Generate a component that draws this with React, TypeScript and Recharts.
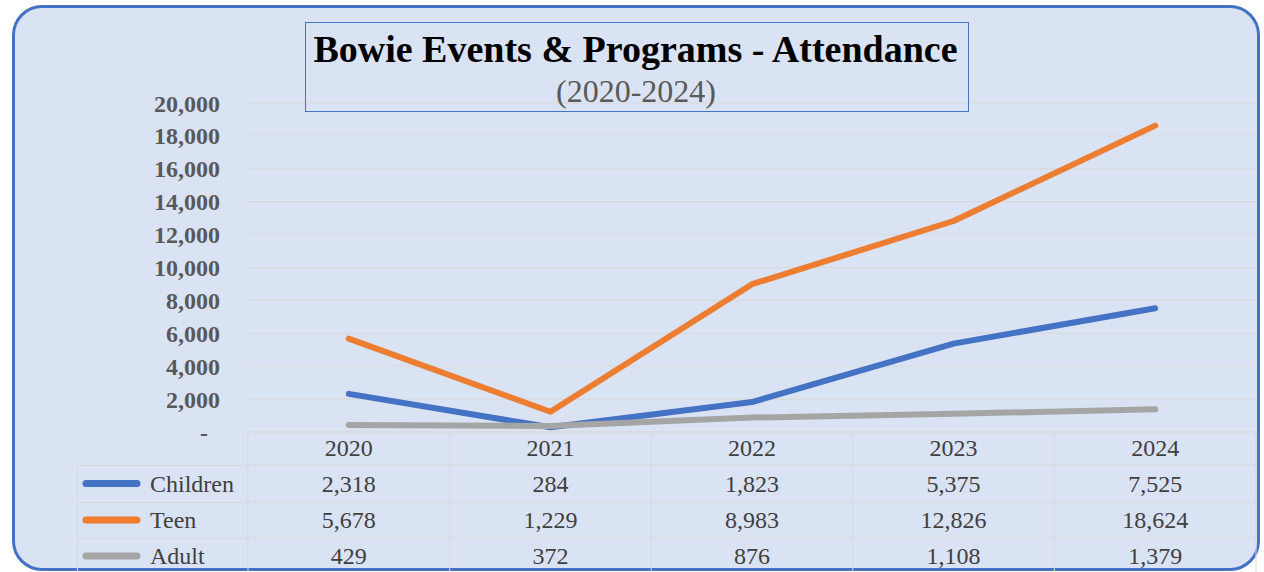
import React from 'react';
import { LineChart, Line, XAxis, YAxis, CartesianGrid, Legend } from 'recharts';

const years = ['2020', '2021', '2022', '2023', '2024'];
const children = [2318, 284, 1823, 5375, 7525];
const teen = [5678, 1229, 8983, 12826, 18624];
const adult = [429, 372, 876, 1108, 1379];
const yTicks = [0, 2000, 4000, 6000, 8000, 10000, 12000, 14000, 16000, 18000, 20000];

const seriesDefs = [
  { key: 'children', name: 'Children', color: '#4472C4', values: children },
  { key: 'teen', name: 'Teen', color: '#ED7D31', values: teen },
  { key: 'adult', name: 'Adult', color: '#A5A5A5', values: adult },
];

const data = years.map((y, i) => ({
  year: y,
  children: children[i],
  teen: teen[i],
  adult: adult[i],
}));

const W = 1264;
const H = 572;
const Y_AXIS_W = 248;
const RIGHT = 8;
const TOP = 103;
const X_AXIS_H = 140;
const HALF_BAND = (W - Y_AXIS_W - RIGHT) / years.length / 2;

const FONT = "'Liberation Serif', 'Times New Roman', serif";
const GRID = '#D9D9D9';
const TEXT = '#404040';

// row offsets below the axis line (relative to x-axis y)
const HEADER_CY = 16;
const ROW_LINES = [33, 70, 106];
const ROW_CY = [51.5, 88, 124];

const fmt = (v: number) => v.toLocaleString('en-US');

const TableTick = (props: any) => {
  const { x, y, payload } = props;
  const i = payload?.index ?? props.index ?? 0;
  const left = x - HALF_BAND;
  const right = x + HALF_BAND;
  const last = i === years.length - 1;
  return (
    <g>
      <line x1={left} x2={left} y1={y} y2={y + X_AXIS_H} stroke={GRID} strokeWidth={1} />
      {last && <line x1={right} x2={right} y1={y} y2={y + X_AXIS_H} stroke={GRID} strokeWidth={1} />}
      {ROW_LINES.map((d, k) => (
        <line key={k} x1={left} x2={right} y1={y + d} y2={y + d} stroke={GRID} strokeWidth={1} />
      ))}
      <text x={x} y={y + HEADER_CY} textAnchor="middle" dominantBaseline="central" fontFamily={FONT} fontSize={24} fill={TEXT}>
        {payload.value}
      </text>
      {seriesDefs.map((s, k) => (
        <text key={s.key} x={x} y={y + ROW_CY[k]} textAnchor="middle" dominantBaseline="central" fontFamily={FONT} fontSize={24} fill={TEXT}>
          {fmt(s.values[i])}
        </text>
      ))}
    </g>
  );
};

const LegendColumn = (props: any) => {
  const payload = props.payload || [];
  const ordered = seriesDefs
    .map((s) => payload.find((p: any) => p.value === s.name))
    .filter(Boolean);
  return (
    <svg width={171} height={107} style={{ display: 'block', overflow: 'visible' }}>
      <line x1={0.5} x2={0.5} y1={0} y2={107} stroke={GRID} />
      {[0.5, 37.5, 73.5].map((yy, k) => (
        <line key={k} x1={0} x2={171} y1={yy} y2={yy} stroke={GRID} />
      ))}
      {ordered.map((p: any, k: number) => {
        const cy = [18.5, 55, 91][k];
        return (
          <g key={p.value}>
            <line x1={9} x2={60} y1={cy} y2={cy} stroke={p.color} strokeWidth={7} strokeLinecap="round" />
            <text x={73} y={cy} dominantBaseline="central" fontFamily={FONT} fontSize={24} fill={TEXT}>
              {p.value}
            </text>
          </g>
        );
      })}
    </svg>
  );
};

export default function App() {
  return (
    <div style={{ position: 'absolute', left: 0, top: 0, width: W, height: H, background: '#ffffff', overflow: 'hidden' }}>
      <div
        style={{
          position: 'absolute',
          left: 12,
          top: 5,
          width: 1248,
          height: 566,
          boxSizing: 'border-box',
          border: '3px solid #4472C4',
          borderRadius: 30,
          background: '#DAE3F3',
        }}
      />
      <div style={{ position: 'absolute', left: 0, top: 0 }}>
        <LineChart width={W} height={H} data={data} margin={{ top: TOP, right: RIGHT, bottom: 0, left: 0 }}>
          <CartesianGrid vertical={false} stroke={GRID} strokeWidth={1} />
          <XAxis
            dataKey="year"
            height={X_AXIS_H}
            padding={{ left: HALF_BAND, right: HALF_BAND }}
            interval={0}
            tickLine={false}
            tickSize={0}
            tickMargin={0}
            axisLine={{ stroke: GRID }}
            tick={<TableTick />}
          />
          <YAxis
            width={Y_AXIS_W}
            domain={[0, 20000]}
            ticks={yTicks}
            interval={0}
            axisLine={false}
            tickLine={false}
            tickSize={0}
            tickMargin={28}
            tickFormatter={(v: number) => (v === 0 ? '-\u00A0\u00A0' : fmt(v))}
            tick={{ fontFamily: FONT, fontSize: 24, fontWeight: 'bold', fill: '#595959' }}
          />
          <Legend
            layout="horizontal"
            verticalAlign="middle"
            align="center"
            content={<LegendColumn />}
            wrapperStyle={{ position: 'absolute', left: 77, top: 465, width: 171, height: 107 }}
          />
          {seriesDefs.map((s) => (
            <Line
              key={s.key}
              type="linear"
              dataKey={s.key}
              name={s.name}
              stroke={s.color}
              strokeWidth={6}
              strokeLinecap="round"
              strokeLinejoin="round"
              dot={false}
              activeDot={false}
              isAnimationActive={false}
            />
          ))}
        </LineChart>
      </div>
      <svg width={W} height={H} style={{ position: 'absolute', left: 0, top: 0, pointerEvents: 'none' }}>
        <rect x={305.5} y={22.5} width={663} height={89} fill="none" stroke="#4472C4" strokeWidth={1} />
        <text x={635.5} y={61.5} textAnchor="middle" fontFamily={FONT} fontSize={38} fontWeight="bold" fill="#000000">
          Bowie Events &amp; Programs - Attendance
        </text>
        <text x={636} y={101.5} textAnchor="middle" fontFamily={FONT} fontSize={32} fill="#595959">
          (2020-2024)
        </text>
      </svg>
    </div>
  );
}
